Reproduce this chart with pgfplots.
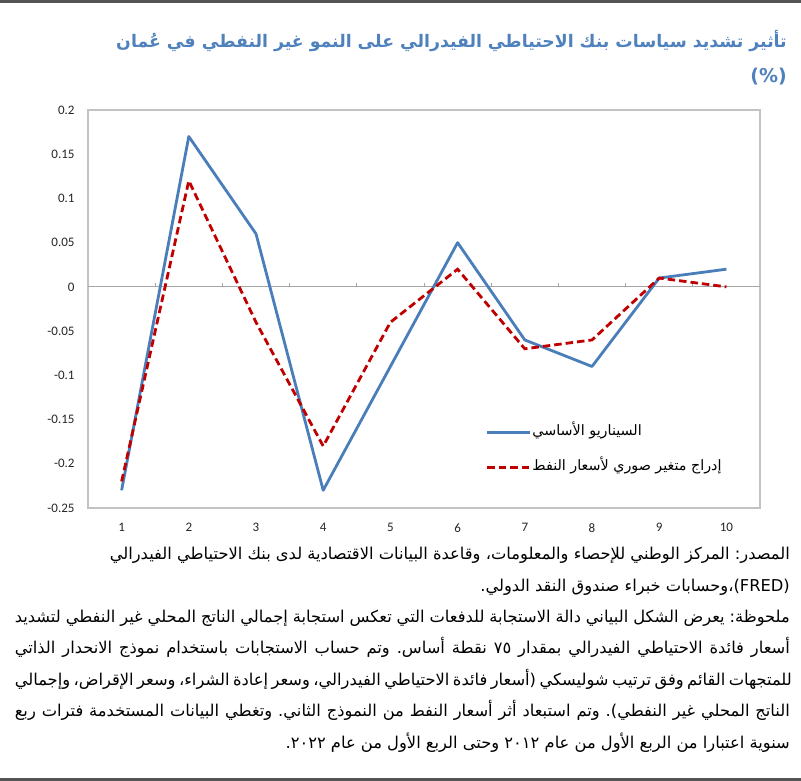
\documentclass[border=0pt]{standalone}
\usepackage{pgfplots}
\pgfplotsset{compat=1.18}
\usepackage{fontspec}
\setmainfont{Carlito}
\newfontfamily\arabicfont[Script=Arabic]{DejaVu Sans}
\TeXXeTstate=1
\frenchspacing
\definecolor{cblue}{RGB}{74,126,187}
\definecolor{cred}{RGB}{192,0,0}
\definecolor{ctitle}{RGB}{79,129,189}
\definecolor{framegray}{RGB}{195,195,195}
\definecolor{zerogray}{RGB}{165,165,165}
\definecolor{bordergray}{RGB}{85,85,85}
\newcommand\nfont{\arabicfont\fontsize{16.3}{16.3}\selectfont\frenchspacing}
\begin{document}
\begin{tikzpicture}[x=1pt,y=1pt]
\path[use as bounding box] (0,0) rectangle (801,781);
\fill[white] (0,0) rectangle (801,781);
\fill[bordergray] (0,778) rectangle (801,781);
\fill[bordergray] (0,0) rectangle (801,3);
% title
\node[anchor=base east, inner sep=0, text=ctitle] at (787,781-48)
  {\arabicfont\bfseries\fontsize{17.3}{17.3}\selectfont\beginR تأثير تشديد سياسات بنك الاحتياطي الفيدرالي على النمو غير النفطي في عُمان\endR};
\node[anchor=base east, inner sep=0, text=ctitle] at (787,781-83)
  {\arabicfont\bfseries\fontsize{19}{19}\selectfont (\%)};
\begin{axis}[
  at={(88pt,273pt)}, anchor=south west,
  scale only axis, width=672pt, height=398pt,
  xmin=0.5, xmax=10.5, ymin=-0.25, ymax=0.2,
  axis line style={framegray, line width=1.2pt},
  xtick={1,2,3,4,5,6,7,8,9,10},
  xticklabels={1,2,3,4,5,6,7,8,9,10},
  ytick={-0.25,-0.2,-0.15,-0.1,-0.05,0,0.05,0.1,0.15,0.2},
  yticklabels={\textup{-0.25},\textup{-0.2},\textup{-0.15},\textup{-0.1},\textup{-0.05},\textup{0},\textup{0.05},\textup{0.1},\textup{0.15},\textup{0.2}},
  major tick length=0pt,
  tick label style={font=\fontsize{13}{13}\selectfont, text=black!85},
  yticklabel style={xshift=-10pt},
  xticklabel style={yshift=-12pt},
  unbounded coords=jump,
  legend style={at={(0.587,0.215)}, anchor=north west, draw=none, fill=none,
    font=\arabicfont\fontsize{14.3}{14.3}\selectfont, row sep=19pt,
    nodes={inner sep=1pt, text height=10pt, text depth=4pt}},
  legend cell align=left,
  legend image code/.code={\draw[#1] (0pt,0pt) -- (43pt,0pt);},
]
\addplot[zerogray, line width=1pt, forget plot] coordinates {(0.5,0) (10.5,0)};
\addplot[zerogray, line width=1pt, forget plot] coordinates {
 (1.5,0) (1.5,0.0045) (nan,nan) (2.5,0) (2.5,0.0045) (nan,nan)
 (3.5,0) (3.5,0.0045) (nan,nan) (4.5,0) (4.5,0.0045) (nan,nan)
 (5.5,0) (5.5,0.0045) (nan,nan) (6.5,0) (6.5,0.0045) (nan,nan)
 (7.5,0) (7.5,0.0045) (nan,nan) (8.5,0) (8.5,0.0045) (nan,nan)
 (9.5,0) (9.5,0.0045)};
\addplot[cblue, line width=2.8pt, line join=round] coordinates {
 (1,-0.23) (2,0.17) (3,0.06) (4,-0.23) (5,-0.09) (6,0.05) (7,-0.06) (8,-0.09) (9,0.01) (10,0.02)};
\addlegendentry{\beginR السيناريو الأساسي\endR}
\addplot[cred, line width=2.8pt, dash pattern=on 7.5pt off 4pt] coordinates {
 (1,-0.22) (2,0.12) (3,-0.04) (4,-0.18) (5,-0.04) (6,0.02) (7,-0.07) (8,-0.06) (9,0.01) (10,0.0)};
\addlegendentry{\beginR إدراج متغير صوري لأسعار النفط\endR}
\end{axis}
% notes
\node[anchor=base east, inner sep=0] at (790,781-560)
  {\nfont\beginR المصدر: المركز الوطني للإحصاء والمعلومات، وقاعدة البيانات الاقتصادية لدى بنك الاحتياطي الفيدرالي\endR};
\node[anchor=base east, inner sep=0] at (790,781-592)
  {\nfont\beginR\beginL(FRED)\endL\kern0pt،وحسابات خبراء صندوق النقد الدولي.\endR};
\node[anchor=base east, inner sep=0] at (790,781-623)
  {\nfont\hbox to 775pt{\beginR ملحوظة: يعرض الشكل البياني دالة الاستجابة للدفعات التي تعكس استجابة إجمالي الناتج المحلي غير النفطي لتشديد\endR}};
\node[anchor=base east, inner sep=0] at (790,781-654)
  {\nfont\hbox to 775pt{\beginR أسعار فائدة الاحتياطي الفيدرالي بمقدار ٧٥ نقطة أساس. وتم حساب الاستجابات باستخدام نموذج الانحدار الذاتي\endR}};
\node[anchor=base east, inner sep=0] at (790,781-686)
  {\nfont\hbox to 775pt{\beginR للمتجهات القائم وفق ترتيب شوليسكي (أسعار فائدة الاحتياطي الفيدرالي، وسعر إعادة الشراء، وسعر الإقراض، وإجمالي\endR}};
\node[anchor=base east, inner sep=0] at (790,781-717)
  {\nfont\hbox to 775pt{\beginR الناتج المحلي غير النفطي). وتم استبعاد أثر أسعار النفط من النموذج الثاني. وتغطي البيانات المستخدمة فترات ربع\endR}};
\node[anchor=base east, inner sep=0] at (790,781-749)
  {\nfont\beginR سنوية اعتبارا من الربع الأول من عام ٢٠١٢ وحتى الربع الأول من عام ٢٠٢٢\kern0pt.\endR};
\end{tikzpicture}
\end{document}
